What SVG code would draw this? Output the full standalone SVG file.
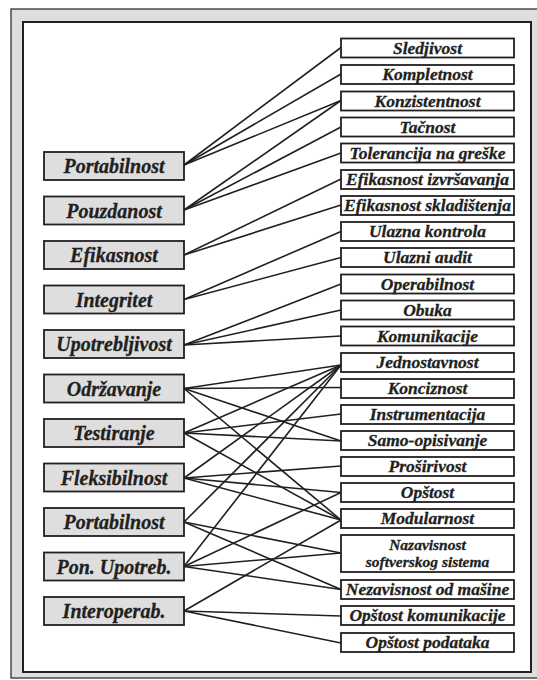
<svg xmlns="http://www.w3.org/2000/svg" width="537" height="680" viewBox="0 0 537 680">
  <style>
    .frame-outer { fill: #dedede; stroke: #231f20; stroke-width: 1.2; }
    .frame-inner { fill: #ffffff; stroke: #231f20; stroke-width: 2; }
    .factor rect { fill: #dedede; stroke: #231f20; stroke-width: 1.8; }
    .criterion rect { fill: #ffffff; stroke: #231f20; stroke-width: 1.8; }
    .factor text, .criterion text { font-family: "Liberation Serif", "Times New Roman", serif; font-weight: bold; font-style: italic; fill: #231f20; stroke: #231f20; stroke-width: 0.3; text-anchor: middle; }
    .factor text { font-size: 20px; }
    .criterion text { font-size: 17.5px; }
    .criterion text.two { font-size: 15.5px; }
    #links line { stroke: #231f20; stroke-width: 1.6; }
  </style>

  <!-- frame -->
  <rect class="frame-outer" x="11" y="9" width="540" height="669"/>
  <rect class="frame-inner" x="23" y="22" width="508" height="650"/>

  <!-- connectors: factor (x=184) to criterion (x=341) -->
  <g id="links">
    <!-- Portabilnost -->
    <line x1="184" y1="165" x2="341" y2="47.5"/>
    <line x1="184" y1="165" x2="341" y2="74"/>
    <line x1="184" y1="165" x2="341" y2="100.5"/>
    <!-- Pouzdanost -->
    <line x1="184" y1="210" x2="341" y2="100.5"/>
    <line x1="184" y1="210" x2="341" y2="127"/>
    <line x1="184" y1="210" x2="341" y2="153"/>
    <!-- Efikasnost -->
    <line x1="184" y1="255" x2="341" y2="179"/>
    <line x1="184" y1="255" x2="341" y2="205"/>
    <!-- Integritet -->
    <line x1="184" y1="299.5" x2="341" y2="231.5"/>
    <line x1="184" y1="299.5" x2="341" y2="257.5"/>
    <!-- Upotrebljivost -->
    <line x1="184" y1="345" x2="341" y2="284"/>
    <line x1="184" y1="345" x2="341" y2="310"/>
    <line x1="184" y1="345" x2="341" y2="336"/>
    <!-- Održavanje -->
    <line x1="184" y1="388.5" x2="341" y2="365"/>
    <line x1="184" y1="388.5" x2="341" y2="387.5"/>
    <line x1="184" y1="388.5" x2="341" y2="441"/>
    <line x1="184" y1="388.5" x2="341" y2="520"/>
    <!-- Testiranje -->
    <line x1="184" y1="433" x2="341" y2="365"/>
    <line x1="184" y1="433" x2="341" y2="414"/>
    <line x1="184" y1="433" x2="341" y2="441"/>
    <line x1="184" y1="433" x2="341" y2="520"/>
    <!-- Fleksibilnost -->
    <line x1="184" y1="478" x2="341" y2="365"/>
    <line x1="184" y1="478" x2="341" y2="466"/>
    <line x1="184" y1="478" x2="341" y2="492.5"/>
    <line x1="184" y1="478" x2="341" y2="520"/>
    <!-- Portabilnost -->
    <line x1="184" y1="522" x2="341" y2="365"/>
    <line x1="184" y1="522" x2="341" y2="553"/>
    <line x1="184" y1="522" x2="341" y2="589.5"/>
    <!-- Pon. Upotreb. -->
    <line x1="184" y1="566.5" x2="341" y2="365"/>
    <line x1="184" y1="566.5" x2="341" y2="492.5"/>
    <line x1="184" y1="566.5" x2="341" y2="553"/>
    <line x1="184" y1="566.5" x2="341" y2="589.5"/>
    <!-- Interoperab. -->
    <line x1="184" y1="611" x2="341" y2="520"/>
    <line x1="184" y1="611" x2="341" y2="616"/>
    <line x1="184" y1="611" x2="341" y2="643"/>
  </g>

  <!-- quality factors -->
  <g id="f-portabilnost" class="factor"><rect x="44" y="152" width="140" height="28"/><text x="114" y="173">Portabilnost</text></g>
  <g id="f-pouzdanost" class="factor"><rect x="44" y="196.5" width="140" height="28"/><text x="114" y="217.5">Pouzdanost</text></g>
  <g id="f-efikasnost" class="factor"><rect x="44" y="241" width="140" height="28"/><text x="114" y="262">Efikasnost</text></g>
  <g id="f-integritet" class="factor"><rect x="44" y="285.5" width="140" height="28"/><text x="114" y="306.5">Integritet</text></g>
  <g id="f-upotrebljivost" class="factor"><rect x="44" y="330" width="140" height="28"/><text x="114" y="351">Upotrebljivost</text></g>
  <g id="f-odrzavanje" class="factor"><rect x="44" y="374.5" width="140" height="28"/><text x="114" y="395.5">Održavanje</text></g>
  <g id="f-testiranje" class="factor"><rect x="44" y="419" width="140" height="28"/><text x="114" y="440">Testiranje</text></g>
  <g id="f-fleksibilnost" class="factor"><rect x="44" y="463.5" width="140" height="28"/><text x="114" y="484.5">Fleksibilnost</text></g>
  <g id="f-portabilnost2" class="factor"><rect x="44" y="508" width="140" height="28"/><text x="114" y="529">Portabilnost</text></g>
  <g id="f-ponupotreb" class="factor"><rect x="44" y="552.5" width="140" height="28"/><text x="114" y="573.5">Pon. Upotreb.</text></g>
  <g id="f-interoperab" class="factor"><rect x="44" y="597" width="140" height="28"/><text x="114" y="618">Interoperab.</text></g>

  <!-- quality criteria -->
  <g id="c-sledjivost" class="criterion"><rect x="341" y="38.5" width="173" height="19"/><text x="427.5" y="53.5">Sledjivost</text></g>
  <g id="c-kompletnost" class="criterion"><rect x="341" y="65" width="173" height="19"/><text x="427.5" y="80">Kompletnost</text></g>
  <g id="c-konzistentnost" class="criterion"><rect x="341" y="91.5" width="173" height="19"/><text x="427.5" y="106.5">Konzistentnost</text></g>
  <g id="c-tacnost" class="criterion"><rect x="341" y="117.5" width="173" height="19"/><text x="427.5" y="132.5">Tačnost</text></g>
  <g id="c-tolerancija" class="criterion"><rect x="341" y="143.5" width="173" height="19"/><text x="427.5" y="158.5">Tolerancija na greške</text></g>
  <g id="c-efik-izvrsavanja" class="criterion"><rect x="341" y="170" width="173" height="19"/><text x="427.5" y="185">Efikasnost izvršavanja</text></g>
  <g id="c-efik-skladistenja" class="criterion"><rect x="341" y="196" width="173" height="19"/><text x="427.5" y="211">Efikasnost skladištenja</text></g>
  <g id="c-ulazna-kontrola" class="criterion"><rect x="341" y="222" width="173" height="19"/><text x="427.5" y="237">Ulazna kontrola</text></g>
  <g id="c-ulazni-audit" class="criterion"><rect x="341" y="248" width="173" height="19"/><text x="427.5" y="263">Ulazni audit</text></g>
  <g id="c-operabilnost" class="criterion"><rect x="341" y="274.5" width="173" height="19"/><text x="427.5" y="289.5">Operabilnost</text></g>
  <g id="c-obuka" class="criterion"><rect x="341" y="300.5" width="173" height="19"/><text x="427.5" y="315.5">Obuka</text></g>
  <g id="c-komunikacije" class="criterion"><rect x="341" y="326.5" width="173" height="19"/><text x="427.5" y="341.5">Komunikacije</text></g>
  <g id="c-jednostavnost" class="criterion"><rect x="341" y="353" width="173" height="19"/><text x="427.5" y="368">Jednostavnost</text></g>
  <g id="c-konciznost" class="criterion"><rect x="341" y="379" width="173" height="19"/><text x="427.5" y="394">Konciznost</text></g>
  <g id="c-instrumentacija" class="criterion"><rect x="341" y="405" width="173" height="19"/><text x="427.5" y="420">Instrumentacija</text></g>
  <g id="c-samo-opisivanje" class="criterion"><rect x="341" y="431" width="173" height="19"/><text x="427.5" y="446">Samo-opisivanje</text></g>
  <g id="c-prosirivost" class="criterion"><rect x="341" y="457" width="173" height="19"/><text x="427.5" y="472">Proširivost</text></g>
  <g id="c-opstost" class="criterion"><rect x="341" y="483" width="173" height="19"/><text x="427.5" y="498">Opštost</text></g>
  <g id="c-modularnost" class="criterion"><rect x="341" y="509" width="173" height="19"/><text x="427.5" y="524">Modularnost</text></g>
  <g id="c-nazavisnost-sw" class="criterion"><rect x="341" y="535" width="173" height="37"/><text class="two" x="427.5" y="549.5">Nazavisnost</text><text class="two" x="427.5" y="567">softverskog sistema</text></g>
  <g id="c-nezavisnost-masine" class="criterion"><rect x="341" y="580" width="173" height="19"/><text x="427.5" y="595">Nezavisnost od mašine</text></g>
  <g id="c-opstost-komunikacije" class="criterion"><rect x="341" y="606" width="173" height="19"/><text x="427.5" y="621">Opštost komunikacije</text></g>
  <g id="c-opstost-podataka" class="criterion"><rect x="341" y="633" width="173" height="19"/><text x="427.5" y="648">Opštost podataka</text></g>
</svg>
